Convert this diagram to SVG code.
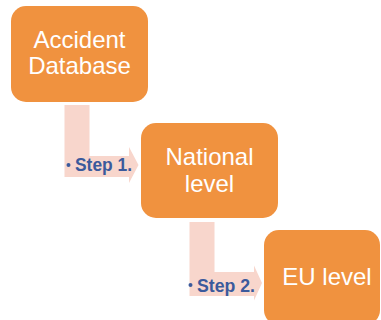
<svg xmlns="http://www.w3.org/2000/svg" width="381" height="320" viewBox="0 0 381 320">
<style>
.box{fill:#F0923F;}
.bt{font-family:"Liberation Sans",Arial,sans-serif;font-size:24px;fill:#ffffff;text-anchor:middle;}
.arrow{fill:#F8D6CC;}
.st{font-family:"Liberation Sans",Arial,sans-serif;font-size:18px;font-weight:bold;fill:#3B5A9C;}
.dot{fill:#3B5A9C;}
</style>
<rect width="381" height="320" fill="#ffffff"/>
<g id="connectors">
<path class="arrow" d="M64.5,105 H89.5 V156 H129 V147 L138.5,165 L129,183 V177 H64.5 Z"/>
<path class="arrow" d="M189.5,222 H214.5 V272 H254 V265.5 L262,283 L254,300.5 V296 H189.5 Z"/>
</g>
<g id="node-accident-database">
<rect class="box" x="11" y="6" width="137" height="96" rx="15"/>
<text class="bt" x="79.5" y="48">Accident</text>
<text class="bt" x="79.5" y="74">Database</text>
</g>
<g id="node-national-level">
<rect class="box" x="141" y="123" width="137" height="95" rx="15"/>
<text class="bt" x="209.5" y="165">National</text>
<text class="bt" x="209.5" y="192">level</text>
</g>
<g id="node-eu-level">
<rect class="box" x="264" y="230" width="116" height="95" rx="15"/>
<text class="bt" x="327" y="285">EU level</text>
</g>
<g id="label-step1">
<circle class="dot" cx="68.5" cy="165" r="2"/>
<text class="st" x="75" y="171" textLength="57" lengthAdjust="spacingAndGlyphs">Step 1.</text>
</g>
<g id="label-step2">
<circle class="dot" cx="190.5" cy="285" r="2"/>
<text class="st" x="197" y="291.5" textLength="58" lengthAdjust="spacingAndGlyphs">Step 2.</text>
</g>
</svg>
